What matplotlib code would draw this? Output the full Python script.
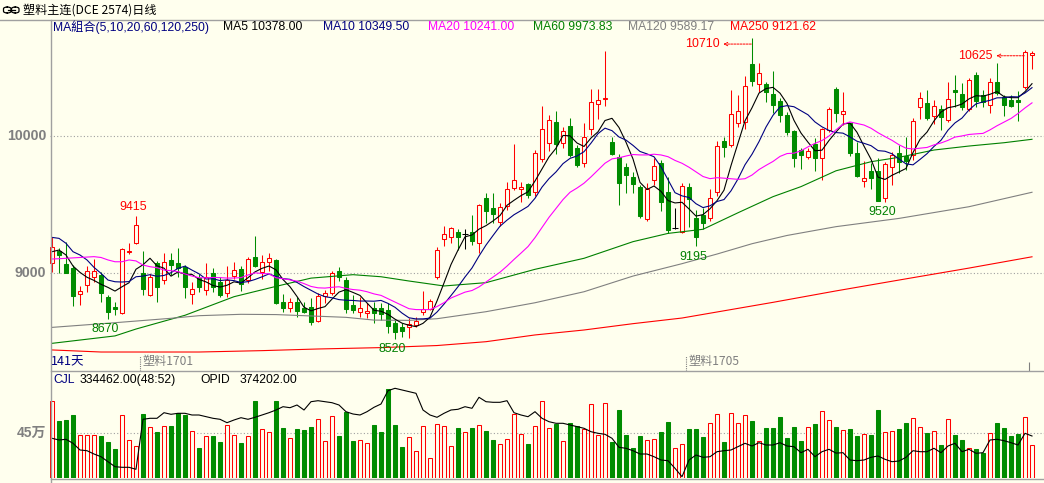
import numpy as np
import pandas as pd
import matplotlib
matplotlib.use("Agg")
import matplotlib.pyplot as plt
from matplotlib.lines import Line2D
from matplotlib.patches import FancyBboxPatch

# ---------------- data ----------------
opens = [9072, 9164, 9068, 9041, 8847, 8915, 8971, 8988, 8830, 8757,
         8714, 9158, 9218, 9000, 8842, 9072, 8951, 9097, 9077, 9043,
         8847, 8963, 8879, 9000, 8939, 8854, 8983, 9029, 8951, 9116,
         9012, 9084, 9097, 8791, 8750, 8791, 8750, 8757, 8653, 8835,
         8859, 9017, 8951, 8770, 8721, 8709, 8745, 8750, 8733, 8636,
         8612, 8607, 8624, 8721, 8738, 8975, 9249, 9261, 9298, 9283,
         9298, 9218, 9550, 9477, 9375, 9489, 9622, 9610, 9649, 9593,
         9831, 9949, 10102, 9944, 10073, 9908, 9799, 10046, 10228, 10264,
         9956, 9847, 9775, 9702, 9625, 9392, 9678, 9799, 9588, 9332,
         9302, 9630, 9399, 9424, 9399, 9588, 9961, 9932, 10090, 10102,
         10521, 10376, 10376, 10303, 10252, 10150, 10034, 9896, 9848, 9937,
         9835, 10041, 10337, 10155, 10090, 9872, 9671, 9743, 9743, 9545,
         9770, 9872, 9852, 9860, 10211, 10235, 10145, 10194, 10114, 10332,
         10303, 10194, 10441, 10296, 10223, 10388, 10284, 10259, 10259, 10351,
         10590]
highs = [9261, 9181, 9225, 9060, 8908, 9053, 9101, 9012, 8840, 8794,
         9181, 9223, 9415, 9162, 8992, 9089, 9150, 9150, 9181, 9060,
         8939, 8992, 9072, 9041, 8975, 9053, 9084, 9053, 9116, 9271,
         9133, 9145, 9101, 8847, 8823, 8825, 8794, 8823, 8854, 8879,
         9019, 9043, 8971, 8842, 8825, 8782, 8794, 8787, 8787, 8661,
         8641, 8673, 8685, 8871, 8811, 9193, 9346, 9339, 9319, 9322,
         9424, 9503, 9586, 9586, 9508, 9661, 9940, 9666, 9659, 9896,
         10218, 10150, 10179, 10066, 10126, 9932, 10095, 10339, 10339, 10618,
         9993, 9864, 9804, 9738, 9642, 9659, 9835, 9823, 9702, 9472,
         9654, 9659, 9460, 9472, 9610, 9961, 9988, 10332, 10296, 10434,
         10710, 10526, 10393, 10472, 10271, 10175, 10041, 9908, 9908, 9981,
         10053, 10211, 10356, 10320, 10095, 9957, 9818, 9799, 9835, 9811,
         9884, 9932, 9993, 10126, 10320, 10332, 10259, 10223, 10393, 10441,
         10380, 10417, 10465, 10332, 10417, 10526, 10296, 10296, 10327, 10625,
         10618]
lows = [9012, 9005, 9000, 8762, 8770, 8866, 8939, 8794, 8670, 8697,
        8704, 9140, 9210, 8842, 8838, 8794, 8922, 8988, 8975, 8818,
        8777, 8866, 8842, 8866, 8830, 8825, 8959, 8874, 8927, 9043,
        8956, 9019, 8777, 8721, 8721, 8680, 8709, 8624, 8648, 8782,
        8842, 8946, 8709, 8709, 8685, 8673, 8636, 8661, 8564, 8520,
        8539, 8527, 8612, 8697, 8733, 8956, 9201, 9222, 9169, 9174,
        9206, 9150, 9363, 9363, 9344, 9460, 9605, 9521, 9545, 9562,
        9811, 9891, 9867, 9908, 9847, 9775, 9775, 10005, 10121, 10216,
        9860, 9496, 9581, 9581, 9399, 9382, 9642, 9453, 9295, 9319,
        9290, 9339, 9195, 9322, 9382, 9564, 9848, 9920, 10061, 10046,
        10361, 10320, 10247, 10162, 10102, 10005, 9775, 9756, 9828, 9743,
        9678, 10029, 10102, 10078, 9852, 9702, 9630, 9610, 9528, 9520,
        9642, 9726, 9751, 9823, 10119, 10114, 10082, 10041, 10102, 10211,
        10187, 10179, 10211, 10206, 10162, 10296, 10143, 10211, 10109, 10337,
        10482]
closes = [9194, 9133, 9000, 8835, 8871, 9017, 9019, 8859, 8721, 8738,
          9174, 9164, 9351, 8883, 8975, 8898, 9080, 9060, 9036, 8898,
          8886, 8898, 8971, 8903, 8842, 8951, 9024, 8922, 9101, 9053,
          9080, 9109, 8782, 8750, 8791, 8726, 8721, 8648, 8835, 8859,
          9000, 8975, 8738, 8733, 8750, 8726, 8709, 8704, 8619, 8576,
          8581, 8631, 8656, 8738, 8801, 9169, 9285, 9327, 9261, 9283,
          9237, 9496, 9455, 9431, 9479, 9610, 9678, 9625, 9569, 9872,
          10049, 10114, 9940, 10034, 9860, 9787, 9988, 10247, 10259, 10271,
          9867, 9654, 9714, 9649, 9419, 9610, 9780, 9520, 9315, 9332,
          9634, 9537, 9261, 9368, 9545, 9927, 9920, 10155, 10179, 10361,
          10400, 10453, 10320, 10223, 10150, 10024, 9840, 9860, 9889, 9840,
          10046, 10191, 10167, 10179, 9877, 9709, 9690, 9690, 9528, 9794,
          9860, 9811, 9816, 10107, 10271, 10126, 10218, 10138, 10264, 10320,
          10211, 10405, 10254, 10247, 10388, 10308, 10223, 10216, 10247, 10606,
          10598]
# volume in 万 (10k lots)
volume_wan = [77.7, 57.8, 58.5, 63.5, 43.3, 43.3, 43.3, 42.3, 36.5, 29.4,
              63.5, 38.2, 32.1, 64.6, 51.4, 46.7, 52.4, 52.4, 65.2, 63.5,
              47.7, 30.4, 42.3, 42.3, 36.5, 53.4, 43.3, 35.5, 42.3, 78.1,
              49.0, 46.0, 78.1, 50.0, 39.9, 49.4, 48.3, 51.0, 59.2, 37.2,
              62.9, 42.3, 66.9, 37.2, 38.2, 34.8, 53.4, 46.0, 89.9, 53.4,
              31.5, 40.9, 27.0, 52.7, 19.6, 54.1, 52.4, 32.1, 50.0, 46.7,
              50.0, 53.4, 47.3, 38.2, 34.2, 38.9, 64.6, 44.3, 34.2, 52.4,
              77.7, 50.0, 54.1, 37.2, 55.8, 52.4, 49.4, 74.3, 43.3, 75.4,
              36.5, 68.6, 43.3, 29.8, 42.2, 38.2, 39.2, 46.3, 56.5, 29.8,
              33.8, 49.4, 49.4, 41.6, 55.1, 64.6, 36.2, 65.2, 55.1, 63.2,
              57.5, 37.2, 50.7, 50.7, 61.9, 40.6, 51.7, 37.5, 51.0, 54.4,
              67.6, 58.5, 51.7, 48.3, 49.7, 42.2, 44.3, 43.3, 68.6, 46.3,
              47.3, 49.7, 55.1, 60.2, 51.7, 45.0, 47.3, 33.1, 59.2, 43.3,
              38.2, 29.8, 29.4, 25.4, 45.6, 55.1, 50.7, 42.2, 44.3, 61.2,
              33.4]
# open interest in thousands
opid_k = [369.6, 366.2, 367.6, 359.6, 346.2, 344.8, 338.2, 332.8, 322.8, 312.8,
          311.6, 311.6, 307.6, 407.6, 409.6, 409.6, 420.8, 417.6, 419.6, 419.6,
          416.2, 416.2, 412.8, 409.6, 407.6, 400.8, 406.2, 410.8, 407.6, 411.6,
          416.2, 420.8, 426.2, 432.8, 430.8, 436.2, 426.2, 442.8, 444.8, 442.8,
          440.8, 436.2, 422.8, 418.2, 416.2, 422.8, 431.6, 438.2, 464.8, 469.6,
          466.2, 462.8, 459.6, 426.2, 416.2, 411.6, 419.6, 426.2, 427.6, 432.8,
          429.6, 451.6, 442.8, 441.6, 441.6, 444.8, 420.8, 416.2, 412.8, 422.8,
          409.6, 402.8, 399.6, 399.6, 396.2, 392.8, 389.6, 382.8, 379.6, 377.6,
          369.6, 351.6, 349.6, 344.8, 338.2, 338.2, 332.8, 326.2, 324.8, 309.6,
          292.8, 326.2, 336.2, 331.6, 332.8, 342.8, 344.8, 346.2, 352.8, 359.6,
          354.2, 360.8, 356.2, 356.2, 360.8, 354.2, 352.8, 340.8, 347.6, 332.8,
          342.8, 347.6, 340.0, 340.8, 326.2, 324.8, 326.2, 331.6, 334.2, 327.6,
          322.8, 324.2, 331.6, 344.8, 342.8, 342.8, 349.6, 340.8, 354.2, 359.6,
          342.8, 347.6, 339.6, 340.8, 366.2, 367.6, 364.8, 360.8, 356.2, 379.6,
          374.2]
# moving-average values visible before a full window is available
ma5_head = [9157, 9169, 9133, 9053]
ma10_head = [9261, 9254, 9218, 9157, 9133, 9097, 9043, 9000, 8951]
ma20_head = [9104, 9106, 9109, 9112, 9115, 9118, 9121, 9115, 9097, 9084,
             9084, 9097, 9090, 9060, 9048, 9041, 9024, 9019, 9012]
# long moving averages read at selected bars
ma60_idx = [0, 9, 12, 19, 26, 32, 37, 43, 47, 51, 56, 62, 69, 76, 83, 88, 93,
            98, 103, 107, 112, 117, 121, 126, 131, 136, 140]
ma60_val = [8491, 8545, 8595, 8695, 8830, 8905, 8965, 8990, 8975, 8944, 8908,
            8932, 9029, 9109, 9230, 9290, 9320, 9440, 9557, 9630, 9745, 9811,
            9843, 9896, 9925, 9949, 9974]
ma120_idx = [0, 9, 17, 21, 27, 32, 42, 46, 51, 55, 62, 69, 76, 83, 90, 95, 100,
             105, 112, 121, 131, 140]
ma120_val = [8607, 8641, 8673, 8692, 8702, 8700, 8680, 8660, 8658, 8670, 8721,
             8786, 8866, 8980, 9070, 9140, 9215, 9275, 9339, 9399, 9484, 9589]
ma250_idx = [0, 7, 21, 30, 38, 47, 55, 62, 69, 76, 83, 90, 103, 112, 121, 131, 140]
ma250_val = [8443, 8428, 8428, 8438, 8450, 8460, 8475, 8503, 8552, 8588, 8634,
             8675, 8789, 8872, 8951, 9038, 9120]

ma_names = ["MA5", "MA10", "MA20", "MA60", "MA120", "MA250"]
ma_last = ["10378.00", "10349.50", "10241.00", "9973.83", "9589.17", "9121.62"]
title = "塑料主连(DCE 2574)日线"
ma_group = "MA組合(5,10,20,60,120,250)"
cjl_value = "334462.00(48:52)"
opid_value = "374202.00"
contract_marks = [(12.5, "塑料1701"), (90.5, "塑料1705")]
high_plain = [12]
high_arrow = [100, 139]
low_marks = [8, 49, 92, 119]
price_ticks = [10000, 9000]
vol_tick = 45

# ---------------- styling ----------------
W, H = 1044, 483
BG = "#FFFFEE"
RED = "#FF0000"
GREEN = "#008C00"
NAVY = "#000080"
GRAY = "#808080"
LINEGRAY = "#A0A0A0"
ma_colors = ["#000000", NAVY, "#FF00FF", "#008000", GRAY, RED]
LAT = ["Liberation Sans", "Noto Sans CJK SC"]
CJK = ["Noto Sans CJK SC", "Liberation Sans"]

fig = plt.figure(figsize=(W / 100, H / 100), dpi=100, facecolor=BG)


def fx(px):
    return px / W


def fy(py):
    return 1 - py / H


def ftext(px, py, s, **kw):
    kw.setdefault("va", "center")
    kw.setdefault("ha", "left")
    kw.setdefault("fontsize", 8.7)
    kw.setdefault("family", LAT)
    fig.text(fx(px), fy(py), s, **kw)


n = len(closes)
x = np.arange(n)
O = np.array(opens, float)
Hh = np.array(highs, float)
L = np.array(lows, float)
C = np.array(closes, float)

# price axes: pixel y = 135.7 - (p-10000)*0.1376
ax = fig.add_axes([fx(50), fy(371), fx(1044) - fx(50), fy(19.3) - fy(371)])
ax.set_xlim(-2 / 7, 992 / 7)
ax.set_ylim(8290, 10846)
ax.axis("off")

axv = fig.add_axes([fx(50), fy(477.7), fx(1044) - fx(50), fy(371) - fy(477.7)])
axv.set_xlim(-2 / 7, 992 / 7)
axv.set_ylim(0, 108.1)
axv.axis("off")

# grid lines
for p in price_ticks:
    ax.axhline(p, color=LINEGRAY, lw=0.8, ls=(0, (1, 2)), zorder=1)
axv.axhline(vol_tick, color=LINEGRAY, lw=0.8, ls=(0, (1, 2)), zorder=1)

up = C > O
doji = C == O
down = C < O
col = np.where(doji, "#000000", np.where(up, RED, GREEN))
BW = 0.58
LW = 0.75

ax.vlines(x, L, Hh, colors=col, lw=LW, zorder=2)
body_h = np.abs(C - O)
body_b = np.minimum(O, C)
m = up
ax.bar(x[m], body_h[m], bottom=body_b[m], width=BW, facecolor=BG,
       edgecolor=RED, lw=LW, zorder=3)
m = down
ax.bar(x[m], body_h[m], bottom=body_b[m], width=BW, facecolor=GREEN,
       edgecolor=GREEN, lw=LW, zorder=3)
m = doji
ax.hlines(C[m], x[m] - BW / 2 - 0.07, x[m] + BW / 2 + 0.07, colors="#000000",
          lw=LW, zorder=3)

# moving averages
cs = pd.Series(C)


def ma(k, head):
    v = cs.rolling(k).mean().to_numpy()
    v[:len(head)] = head
    return v


ax.plot(x, ma(5, ma5_head), color=ma_colors[0], lw=0.8, zorder=5)
ax.plot(x, ma(10, ma10_head), color=ma_colors[1], lw=0.8, zorder=5)
ax.plot(x, ma(20, ma20_head), color=ma_colors[2], lw=0.8, zorder=5)
ax.plot(ma60_idx, ma60_val, color=ma_colors[3], lw=0.8, zorder=4)
ax.plot(ma120_idx, ma120_val, color=ma_colors[4], lw=0.8, zorder=4)
ax.plot(ma250_idx, ma250_val, color=ma_colors[5], lw=0.8, zorder=4)

# high / low annotations
for i in high_plain:
    ax.text(i - 0.4, Hh[i] + 70, f"{int(Hh[i])}", color=RED, ha="center",
            va="center", fontsize=8.9, family=LAT, zorder=6)
for i in high_arrow:
    yv = Hh[i] - 44
    ax.text(i - 4.6, yv, f"{int(Hh[i])}", color=RED, ha="right", va="center",
            fontsize=8.9, family=LAT, zorder=6)
    ax.annotate("", xy=(i - 4.1, yv), xytext=(i - 0.1, yv),
                arrowprops=dict(arrowstyle="->", color=RED, lw=0.7,
                                linestyle=(0, (2, 1.2)), shrinkA=0, shrinkB=0,
                                mutation_scale=6), zorder=6)
for i in low_marks:
    ax.text(i - 0.4, L[i] - 73, f"{int(L[i])}", color="#008000", ha="center",
            va="center", fontsize=8.9, family=LAT, zorder=6)

# contract roll markers and bar count
for pos, lab in contract_marks:
    ax.vlines(pos, 8290, 8399, colors=GRAY, lw=0.8, ls=(0, (1, 1)), zorder=2)
    ax.text(pos + 0.45, 8356, lab, color=GRAY, ha="left", va="center",
            fontsize=8.7, family=CJK)
ax.vlines(n - 1 - 0.4, 8290, 8352, colors=GRAY, lw=0.8)
ftext(51, 361.7, f"{n}天", color=NAVY, family=CJK, fontsize=9)

# volume bars
vol = np.array(volume_wan)
vred = C >= O
axv.bar(x[vred], vol[vred], width=BW, facecolor=BG, edgecolor=RED, lw=LW,
        zorder=3)
axv.bar(x[~vred], vol[~vred], width=BW, facecolor=GREEN, edgecolor=GREEN,
        lw=LW, zorder=3)
axo = axv.twinx()
axo.set_ylim(290.8, 504.2)
axo.axis("off")
axo.plot(x, opid_k, color="#000000", lw=0.8, zorder=5)

# frame lines
def fline(x0, y0, x1, y1, **kw):
    fig.add_artist(Line2D([fx(x0), fx(x1)], [fy(y0), fy(y1)],
                          transform=fig.transFigure, **kw))


fline(0, 19.5, W, 19.5, color=LINEGRAY, lw=1.0)
fline(50.5, 19.5, 50.5, H, color=LINEGRAY, lw=1.0)
fline(50.5, 371, W, 371, color=LINEGRAY, lw=1.0)
fline(50.5, 478.5, W, 478.5, color=LINEGRAY, lw=1.0)

# left axis labels
for p in price_ticks:
    py = 135.7 - (p - 10000) * 0.1376
    ftext(46, py, f"{p}", ha="right", color=GRAY, fontweight="bold",
          fontsize=10.2)
ftext(46, 477.7 - vol_tick / 1.0135, f"{vol_tick}万", ha="right", color=GRAY,
      fontweight="bold", fontsize=10)

# title row
for x0 in (3.5, 11.5):
    fig.add_artist(FancyBboxPatch((fx(x0), fy(13)), fx(7.5), fy(7) - fy(13),
                                  boxstyle="round,pad=0,rounding_size=0.004",
                                  transform=fig.transFigure, fill=False,
                                  ec="#000000", lw=0.9))
fline(8, 10, 15, 10, color="#000000", lw=0.9)
ftext(23, 10, title, color="#000000", family=CJK)

# MA legend row
ftext(53, 27.3, ma_group, color=NAVY)
leg_x = [223, 323, 428, 533, 628, 730]
for px, nm, v, c in zip(leg_x, ma_names, ma_last, ma_colors):
    ftext(px, 27.3, f"{nm} {v}", color=c)

# volume header
ftext(53, 380, "CJL", color=NAVY)
ftext(80, 380, cjl_value, color="#000000")
ftext(200, 380, "OPID", color="#000000")
ftext(240, 380, opid_value, color="#000000")

fig.savefig("out.png", dpi=100, facecolor=BG)
